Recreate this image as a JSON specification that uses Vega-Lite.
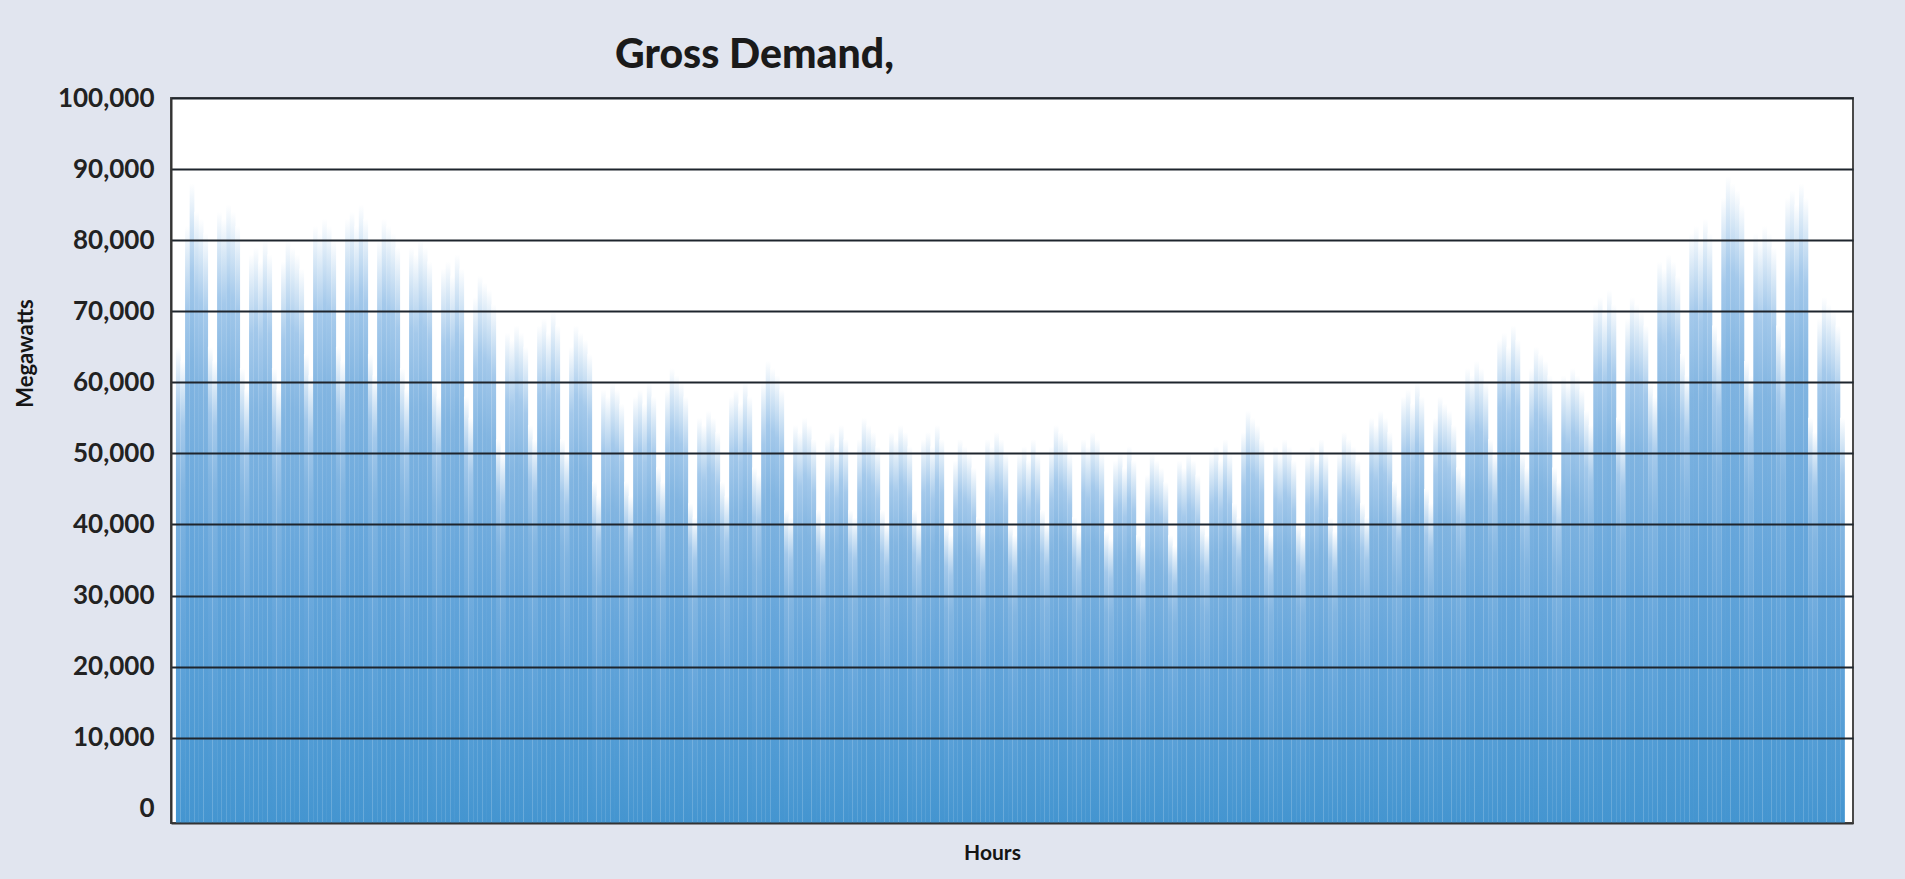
{
"$schema": "https://vega.github.io/schema/vega-lite/v6.json",
"width": 1682, "height": 725,
"autosize": {"type": "none"},
"padding": {"left": 171, "top": 98, "right": 52, "bottom": 56},
"background": "#e1e5ef",
"config": {"view": {"fill": "#ffffff", "stroke": "#4a4a4a", "strokeWidth": 2}, "font": "Lato"},
"title": {"text": "Gross Demand,", "anchor": "start", "frame": "group", "dx": 444, "dy": 43, "offset": 19, "baseline": "alphabetic", "fontSize": 41, "fontWeight": 900, "font": "Lato", "color": "#1a1a1a"},
"datasets": {
"daily": [
{"d":0,"h":65000},{"d":1,"h":63000},{"d":2,"h":82000},{"d":3,"h":88000},{"d":4,"h":84000},{"d":5,"h":83000},{"d":6,"h":81000},
{"d":7,"h":65000},{"d":8,"h":63000},{"d":9,"h":84000},{"d":10,"h":83000},{"d":11,"h":85000},{"d":12,"h":84000},{"d":13,"h":82000},
{"d":14,"h":62000},{"d":15,"h":59000},{"d":16,"h":78000},{"d":17,"h":79000},{"d":18,"h":77000},{"d":19,"h":80000},{"d":20,"h":78000},
{"d":21,"h":62000},{"d":22,"h":59000},{"d":23,"h":77000},{"d":24,"h":80000},{"d":25,"h":79000},{"d":26,"h":78000},{"d":27,"h":76000},
{"d":28,"h":64000},{"d":29,"h":61000},{"d":30,"h":82000},{"d":31,"h":81000},{"d":32,"h":83000},{"d":33,"h":82000},{"d":34,"h":80000},
{"d":35,"h":65000},{"d":36,"h":63000},{"d":37,"h":83000},{"d":38,"h":84000},{"d":39,"h":82000},{"d":40,"h":85000},{"d":41,"h":83000},
{"d":42,"h":64000},{"d":43,"h":61000},{"d":44,"h":80000},{"d":45,"h":83000},{"d":46,"h":82000},{"d":47,"h":81000},{"d":48,"h":79000},
{"d":49,"h":62000},{"d":50,"h":59000},{"d":51,"h":79000},{"d":52,"h":78000},{"d":53,"h":80000},{"d":54,"h":79000},{"d":55,"h":77000},
{"d":56,"h":60000},{"d":57,"h":58000},{"d":58,"h":76000},{"d":59,"h":77000},{"d":60,"h":75000},{"d":61,"h":78000},{"d":62,"h":76000},
{"d":63,"h":58000},{"d":64,"h":55000},{"d":65,"h":72000},{"d":66,"h":75000},{"d":67,"h":74000},{"d":68,"h":73000},{"d":69,"h":71000},
{"d":70,"h":52000},{"d":71,"h":50000},{"d":72,"h":67000},{"d":73,"h":66000},{"d":74,"h":68000},{"d":75,"h":67000},{"d":76,"h":65000},
{"d":77,"h":54000},{"d":78,"h":52000},{"d":79,"h":68000},{"d":80,"h":69000},{"d":81,"h":67000},{"d":82,"h":70000},{"d":83,"h":68000},
{"d":84,"h":52000},{"d":85,"h":50000},{"d":86,"h":65000},{"d":87,"h":68000},{"d":88,"h":67000},{"d":89,"h":66000},{"d":90,"h":64000},
{"d":91,"h":46000},{"d":92,"h":44000},{"d":93,"h":59000},{"d":94,"h":58000},{"d":95,"h":60000},{"d":96,"h":59000},{"d":97,"h":57000},
{"d":98,"h":46000},{"d":99,"h":44000},{"d":100,"h":58000},{"d":101,"h":59000},{"d":102,"h":57000},{"d":103,"h":60000},{"d":104,"h":58000},
{"d":105,"h":48000},{"d":106,"h":46000},{"d":107,"h":59000},{"d":108,"h":62000},{"d":109,"h":61000},{"d":110,"h":60000},{"d":111,"h":58000},
{"d":112,"h":43000},{"d":113,"h":41000},{"d":114,"h":55000},{"d":115,"h":54000},{"d":116,"h":56000},{"d":117,"h":55000},{"d":118,"h":53000},
{"d":119,"h":46000},{"d":120,"h":44000},{"d":121,"h":58000},{"d":122,"h":59000},{"d":123,"h":57000},{"d":124,"h":60000},{"d":125,"h":58000},
{"d":126,"h":48000},{"d":127,"h":47000},{"d":128,"h":60000},{"d":129,"h":63000},{"d":130,"h":62000},{"d":131,"h":61000},{"d":132,"h":59000},
{"d":133,"h":42000},{"d":134,"h":41000},{"d":135,"h":54000},{"d":136,"h":53000},{"d":137,"h":55000},{"d":138,"h":54000},{"d":139,"h":52000},
{"d":140,"h":42000},{"d":141,"h":40000},{"d":142,"h":52000},{"d":143,"h":53000},{"d":144,"h":51000},{"d":145,"h":54000},{"d":146,"h":52000},
{"d":147,"h":42000},{"d":148,"h":41000},{"d":149,"h":52000},{"d":150,"h":55000},{"d":151,"h":54000},{"d":152,"h":53000},{"d":153,"h":51000},
{"d":154,"h":42000},{"d":155,"h":40000},{"d":156,"h":53000},{"d":157,"h":52000},{"d":158,"h":54000},{"d":159,"h":53000},{"d":160,"h":51000},
{"d":161,"h":42000},{"d":162,"h":40000},{"d":163,"h":52000},{"d":164,"h":53000},{"d":165,"h":51000},{"d":166,"h":54000},{"d":167,"h":52000},
{"d":168,"h":40000},{"d":169,"h":38500},{"d":170,"h":49000},{"d":171,"h":52000},{"d":172,"h":51000},{"d":173,"h":50000},{"d":174,"h":48000},
{"d":175,"h":41000},{"d":176,"h":39000},{"d":177,"h":52000},{"d":178,"h":51000},{"d":179,"h":53000},{"d":180,"h":52000},{"d":181,"h":50000},
{"d":182,"h":40000},{"d":183,"h":38500},{"d":184,"h":50000},{"d":185,"h":51000},{"d":186,"h":49000},{"d":187,"h":52000},{"d":188,"h":50000},
{"d":189,"h":42000},{"d":190,"h":40000},{"d":191,"h":51000},{"d":192,"h":54000},{"d":193,"h":53000},{"d":194,"h":52000},{"d":195,"h":50000},
{"d":196,"h":41000},{"d":197,"h":39000},{"d":198,"h":52000},{"d":199,"h":51000},{"d":200,"h":53000},{"d":201,"h":52000},{"d":202,"h":50000},
{"d":203,"h":39000},{"d":204,"h":38000},{"d":205,"h":49000},{"d":206,"h":50000},{"d":207,"h":48000},{"d":208,"h":51000},{"d":209,"h":49000},
{"d":210,"h":38500},{"d":211,"h":37000},{"d":212,"h":47000},{"d":213,"h":50000},{"d":214,"h":49000},{"d":215,"h":48000},{"d":216,"h":46000},
{"d":217,"h":38500},{"d":218,"h":37000},{"d":219,"h":49000},{"d":220,"h":48000},{"d":221,"h":50000},{"d":222,"h":49000},{"d":223,"h":47000},
{"d":224,"h":40000},{"d":225,"h":38500},{"d":226,"h":50000},{"d":227,"h":51000},{"d":228,"h":49000},{"d":229,"h":52000},{"d":230,"h":50000},
{"d":231,"h":43000},{"d":232,"h":41000},{"d":233,"h":53000},{"d":234,"h":56000},{"d":235,"h":55000},{"d":236,"h":54000},{"d":237,"h":52000},
{"d":238,"h":40000},{"d":239,"h":38500},{"d":240,"h":51000},{"d":241,"h":50000},{"d":242,"h":52000},{"d":243,"h":51000},{"d":244,"h":49000},
{"d":245,"h":40000},{"d":246,"h":38500},{"d":247,"h":50000},{"d":248,"h":51000},{"d":249,"h":49000},{"d":250,"h":52000},{"d":251,"h":50000},
{"d":252,"h":41000},{"d":253,"h":39000},{"d":254,"h":50000},{"d":255,"h":53000},{"d":256,"h":52000},{"d":257,"h":51000},{"d":258,"h":49000},
{"d":259,"h":43000},{"d":260,"h":41000},{"d":261,"h":55000},{"d":262,"h":54000},{"d":263,"h":56000},{"d":264,"h":55000},{"d":265,"h":53000},
{"d":266,"h":46000},{"d":267,"h":44000},{"d":268,"h":58000},{"d":269,"h":59000},{"d":270,"h":57000},{"d":271,"h":60000},{"d":272,"h":58000},
{"d":273,"h":45000},{"d":274,"h":43000},{"d":275,"h":55000},{"d":276,"h":58000},{"d":277,"h":57000},{"d":278,"h":56000},{"d":279,"h":54000},
{"d":280,"h":48000},{"d":281,"h":47000},{"d":282,"h":62000},{"d":283,"h":61000},{"d":284,"h":63000},{"d":285,"h":62000},{"d":286,"h":60000},
{"d":287,"h":52000},{"d":288,"h":50000},{"d":289,"h":66000},{"d":290,"h":67000},{"d":291,"h":65000},{"d":292,"h":68000},{"d":293,"h":66000},
{"d":294,"h":50000},{"d":295,"h":48000},{"d":296,"h":62000},{"d":297,"h":65000},{"d":298,"h":64000},{"d":299,"h":63000},{"d":300,"h":61000},
{"d":301,"h":48000},{"d":302,"h":46000},{"d":303,"h":61000},{"d":304,"h":60000},{"d":305,"h":62000},{"d":306,"h":61000},{"d":307,"h":59000},
{"d":308,"h":56000},{"d":309,"h":54000},{"d":310,"h":71000},{"d":311,"h":72000},{"d":312,"h":70000},{"d":313,"h":73000},{"d":314,"h":71000},
{"d":315,"h":55000},{"d":316,"h":53000},{"d":317,"h":69000},{"d":318,"h":72000},{"d":319,"h":71000},{"d":320,"h":70000},{"d":321,"h":68000},
{"d":322,"h":60000},{"d":323,"h":58000},{"d":324,"h":77000},{"d":325,"h":76000},{"d":326,"h":78000},{"d":327,"h":77000},{"d":328,"h":75000},
{"d":329,"h":64000},{"d":330,"h":61000},{"d":331,"h":81000},{"d":332,"h":82000},{"d":333,"h":80000},{"d":334,"h":83000},{"d":335,"h":81000},
{"d":336,"h":68000},{"d":337,"h":66000},{"d":338,"h":86000},{"d":339,"h":89000},{"d":340,"h":88000},{"d":341,"h":87000},{"d":342,"h":85000},
{"d":343,"h":63000},{"d":344,"h":61000},{"d":345,"h":81000},{"d":346,"h":80000},{"d":347,"h":82000},{"d":348,"h":81000},{"d":349,"h":79000},
{"d":350,"h":68000},{"d":351,"h":65000},{"d":352,"h":86000},{"d":353,"h":87000},{"d":354,"h":85000},{"d":355,"h":88000},{"d":356,"h":86000},
{"d":357,"h":55000},{"d":358,"h":53000},{"d":359,"h":69000},{"d":360,"h":72000},{"d":361,"h":71000},{"d":362,"h":70000},{"d":363,"h":68000},
{"d":364,"h":55000}
]
},
"encoding": {
"x": {"field": "d", "type": "quantitative",
  "scale": {"domain": [-0.5, 365.2], "nice": false, "zero": false},
  "axis": {"title": "Hours", "labels": false, "ticks": false, "grid": false, "domain": true, "domainColor": "#333333", "domainWidth": 2,
    "titleFontSize": 21, "titleFont": "Lato", "titleFontWeight": "bold", "titleColor": "#151515",
    "titleX": 821, "titleY": 19, "titleBaseline": "top", "titleAlign": "center", "zindex": 1}},
"y": {"field": "h", "type": "quantitative",
  "scale": {"domain": [-2000, 100000], "nice": false, "zero": false},
  "axis": {"title": "Megawatts", "values": [0,10000,20000,30000,40000,50000,60000,70000,80000,90000,100000], "format": ",d",
    "grid": true, "gridColor": {"condition": {"test": "datum.value === 0", "value": "rgba(0,0,0,0)"}, "value": "#1e252d"}, "gridWidth": 2,
    "domain": true, "domainColor": "#333333", "domainWidth": 2, "ticks": false, "labelPadding": 17,
    "labelFontSize": 26, "labelFont": "Lato", "labelFontWeight": "bold", "labelColor": "#222222",
    "titleFontSize": 22, "titleFont": "Lato", "titleFontWeight": "bold", "titleColor": "#151515",
    "titleX": -146, "titleY": 255, "titleAngle": -90, "titleAlign": "center", "titleBaseline": "middle", "zindex": 1}},
"y2": {"datum": -2000}
},
"layer": [
{"data": {"name": "daily"},
 "mark": {"type": "bar", "width": 4.7, "clip": true,
   "fill": {"gradient": "linear", "x1": 0, "y1": 0, "x2": 0, "y2": 1,
     "stops": [{"offset": 0, "color": "#ffffff"}, {"offset": 0.06, "color": "#d6e7f6"}, {"offset": 0.14, "color": "#a4c9eb"}, {"offset": 0.28, "color": "#82b5e1"}, {"offset": 0.55, "color": "#66a6db"}, {"offset": 1, "color": "#4495d0"}]}}}
]
}
